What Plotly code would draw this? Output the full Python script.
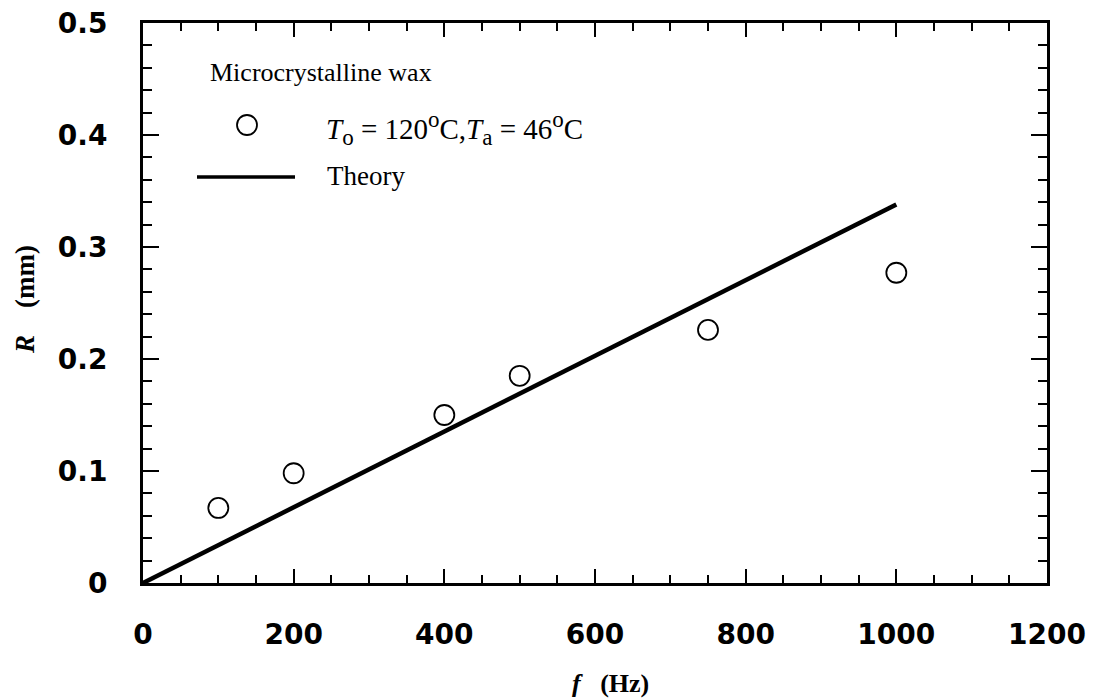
import plotly.graph_objects as go

# Data
freq_hz = [100, 200, 400, 500, 750, 1000]
radius_mm = [0.067, 0.098, 0.150, 0.185, 0.226, 0.277]
theory_f = [0, 1000]
theory_r = [0, 0.338]

x_ticks = [0, 200, 400, 600, 800, 1000, 1200]
y_ticks = [0, 0.1, 0.2, 0.3, 0.4, 0.5]

fig = go.Figure()
fig.add_trace(go.Scatter(x=theory_f, y=theory_r, mode="lines",
                         line=dict(color="black", width=4.5), showlegend=False,
                         cliponaxis=False))
fig.add_trace(go.Scatter(x=freq_hz, y=radius_mm, mode="markers",
                         marker=dict(symbol="circle-open", size=20, color="black",
                                     line=dict(width=1.8, color="black")),
                         showlegend=False))

tickfont = dict(family="DejaVu Sans", size=28, color="black", weight="bold")
fig.update_xaxes(range=[0, 1200], tickvals=x_ticks, ticks="inside", ticklen=14, tickwidth=2,
                 tickcolor="black", showline=True, linewidth=3, linecolor="black",
                 mirror="allticks", showgrid=False, zeroline=False, tickfont=tickfont,
                 ticklabelstandoff=24,
                 minor=dict(dtick=50, ticks="inside", ticklen=8, tickwidth=1.5,
                            tickcolor="black", showgrid=False))
fig.update_yaxes(range=[0, 0.5], tickvals=y_ticks, ticks="inside", ticklen=16, tickwidth=2,
                 tickcolor="black", showline=True, linewidth=3, linecolor="black",
                 mirror="allticks", showgrid=False, zeroline=False, tickfont=tickfont,
                 ticklabelstandoff=27,
                 minor=dict(dtick=0.02, ticks="inside", ticklen=9, tickwidth=1.5,
                            tickcolor="black", showgrid=False))

L, R, T, B = 143, 53, 23, 116
W, H = 1100, 699
pw, ph = W - L - R, H - T - B

def px(x):
    return (x - L) / pw

def py(y):
    return (H - B - y) / ph

serif = "Liberation Serif"
small = '<span style="font-size:23px">{}</span>'
legend_txt = ("<i>T</i><sub>" + small.format("o") + "</sub> = 120<sup>" + small.format("o")
              + "</sup>C,<i>T</i><sub>" + small.format("a") + "</sub> = 46<sup>"
              + small.format("o") + "</sup>C")
ann = []
ann.append(dict(text="Microcrystalline wax", x=px(208), y=py(72), xref="paper", yref="paper",
                xanchor="left", yanchor="middle", showarrow=False,
                font=dict(family=serif, size=26, color="black")))
ann.append(dict(text=legend_txt,
                x=px(324), y=py(128), xref="paper", yref="paper",
                xanchor="left", yanchor="middle", showarrow=False,
                font=dict(family=serif, size=29, color="black")))
ann.append(dict(text="Theory", x=px(325), y=py(176), xref="paper", yref="paper",
                xanchor="left", yanchor="middle", showarrow=False,
                font=dict(family=serif, size=27, color="black")))
ann.append(dict(text="<i>f</i>\u00a0\u00a0\u00a0(Hz)", x=px(610), y=py(683), xref="paper", yref="paper",
                xanchor="center", yanchor="middle", showarrow=False,
                font=dict(family=serif, size=26, color="black", weight="bold")))
ann.append(dict(text="<i>R</i>\u00a0\u00a0\u00a0\u00a0(mm)", x=px(25), y=py(299), xref="paper", yref="paper",
                xanchor="center", yanchor="middle", showarrow=False, textangle=-90,
                font=dict(family=serif, size=27, color="black", weight="bold")))

shapes = [
    dict(type="line", xref="paper", yref="paper", x0=px(197), x1=px(295), y0=py(177), y1=py(177),
         line=dict(color="black", width=3.5)),
    dict(type="circle", xref="paper", yref="paper", x0=px(237), x1=px(257), y0=py(135), y1=py(115),
         line=dict(color="black", width=1.8)),
]

fig.update_layout(width=W, height=H, margin=dict(l=L, r=R, t=T, b=B, autoexpand=False),
                  plot_bgcolor="white", paper_bgcolor="white",
                  annotations=ann, shapes=shapes, showlegend=False)

fig.write_html("out.html", config={"displayModeBar": False},
               post_script="document.body.style.margin='0';document.body.style.overflow='hidden';")
